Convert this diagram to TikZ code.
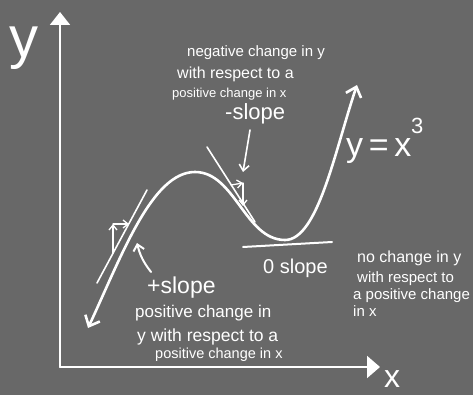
\documentclass[tikz,border=0pt]{standalone}
\usepackage{fontspec}
\setmainfont{Liberation Sans}
\usetikzlibrary{arrows.meta}
\definecolor{bg}{RGB}{104,104,104}
\begin{document}
\begin{tikzpicture}[x=1pt,y=-1pt,
  chalk/.style={draw=white, line cap=round, line join=round},
  thin chalk/.style={chalk, line width=1.6pt},
  thick chalk/.style={chalk, line width=2.6pt},
  barb/.tip={Straight Barb[length=5pt,width=8pt]},
  lbl/.style={text=white, inner sep=0pt, anchor=base west},
  note/.style={lbl, font=\fontsize{15}{17}\selectfont},
  big/.style={lbl, font=\fontsize{22}{24}\selectfont}]
\fill[bg] (0,0) rectangle (473,395);
\useasboundingbox (0,0) rectangle (473,395);

% axes
\coordinate (O) at (60,367);
\coordinate (ytip) at (60,12);
\coordinate (xtip) at (380,367);
\draw[thin chalk, line width=2pt, -{Triangle[length=13pt,width=20pt]}] (O) -- (ytip);
\draw[thin chalk, line width=2pt, -{Triangle[length=13pt,width=22pt]}] (O) -- (xtip);
\node[lbl, anchor=center, font=\fontsize{58}{60}\selectfont] (ylab) at (24,48) {y};
\node[lbl, anchor=center, font=\fontsize{32}{34}\selectfont] (xlab) at (392,379) {x};

% the cubic curve
\coordinate (cstart) at (88,328);
\coordinate (peak) at (195,172);
\coordinate (trough) at (285,240);
\coordinate (cend) at (357,85);
\draw[thick chalk, {Straight Barb[length=9pt,width=16pt]}-{Straight Barb[length=9pt,width=16pt]}]
  (cstart) .. controls (122,255) and (152,172) .. (peak)
  .. controls (235,172) and (245,240) .. (trough)
  .. controls (318,240) and (335,150) .. (cend);

% positive slope tangent and triangle
\coordinate (t1a) at (97,283);
\coordinate (t1b) at (147,190);
\draw[thin chalk] (t1a) -- (t1b);
\coordinate (p1) at (113,253);
\coordinate (p2) at (113,224);
\coordinate (p3) at (129,224);
\draw[thin chalk, line width=1.3pt, -{barb}] (p1) -- (p2);
\draw[thin chalk, line width=1.3pt, -{barb}] (p2) -- (p3);

% negative slope tangent and triangle
\coordinate (t2a) at (207,147);
\coordinate (t2b) at (255,222);
\draw[thin chalk] (t2a) -- (t2b);
\coordinate (n1) at (231,185);
\coordinate (n2) at (243,183);
\coordinate (n3) at (243,206);
\draw[thin chalk, line width=1.3pt, -{barb}] (n1) -- (n2);
\draw[thin chalk, line width=1.3pt, -{barb}] (n2) -- (n3);

% zero slope tangent
\coordinate (z1) at (243,247);
\coordinate (z2) at (332,242);
\draw[thin chalk, line width=2pt] (z1) -- (z2);

% labels
\node[note] (neg1) at (187,57) {negative change in y};
\node[note, font=\fontsize{16}{18}\selectfont] (neg2) at (177,79) {with respect to a};
\node[note, font=\fontsize{13}{15}\selectfont] (neg3) at (172,98) {positive change in x};
\node[big] (negslope) at (225,120) {-slope};
\coordinate (na1) at (250,130);
\coordinate (na2) at (243,172);
\draw[thin chalk, -{Straight Barb[length=6pt,width=10pt]}] (na1) -- (na2);

\node[lbl, font=\fontsize{34}{36}\selectfont] (eq) at (346,157) {y\,=\,x};
\node[lbl, font=\fontsize{22}{24}\selectfont] (cube) at (411,134) {3};

\node[big, font=\fontsize{23}{25}\selectfont] (posslope) at (147,293) {+slope};
\coordinate (pa1) at (151,272);
\coordinate (pa2) at (137,243);
\draw[thin chalk, line width=2pt, -{Straight Barb[length=6pt,width=11pt]}] (pa1) to[bend left=12] (pa2);

\node[note, font=\fontsize{17}{19}\selectfont] (pos1) at (135,317) {positive change in};
\node[note, font=\fontsize{17.5}{19}\selectfont] (pos2) at (137,341) {y with respect to a};
\node[note, font=\fontsize{14.5}{16}\selectfont] (pos3) at (155,358) {positive change in x};

\node[big, font=\fontsize{20}{22}\selectfont] (zslope) at (263,273) {0 slope};
\node[note, font=\fontsize{16}{18}\selectfont] (z1t) at (357,262) {no change in y};
\node[note] (z2t) at (357,282) {with respect to};
\node[note] (z3t) at (353,299) {a positive change};
\node[note] (z4t) at (353,316) {in x};
\end{tikzpicture}
\end{document}
